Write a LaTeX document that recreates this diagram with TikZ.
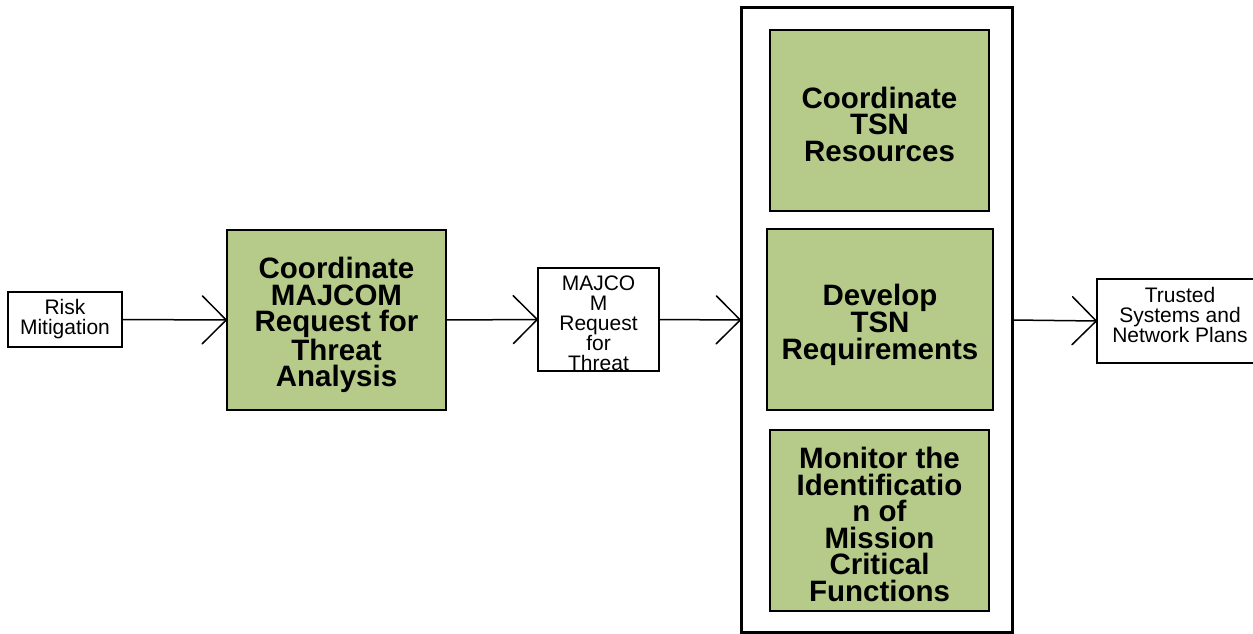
\documentclass[tikz,border=0pt]{standalone}
\usepackage{fontspec}
\setmainfont{Liberation Sans}
\usetikzlibrary{arrows.meta}
\definecolor{boxgreen}{RGB}{182,203,137}
\tikzset{
 plainbox/.style={draw, line width=1.5pt, fill=white, inner sep=0pt, outer sep=0pt},
 greenbox/.style={draw, line width=2.8pt, fill=boxgreen, inner sep=0pt, outer sep=0pt},
 greentxt/.style={font=\fontsize{29.5}{26.5}\selectfont\bfseries, align=center, inner sep=0pt},
 smalltxt/.style={font=\fontsize{21}{20}\selectfont, align=center, inner sep=0pt},
 flow/.style={line width=1.5pt, -{Straight Barb[length=24pt,width=48pt,round]}}
}
\begin{document}
\begin{tikzpicture}[x=1pt,y=-1pt]
\useasboundingbox (0,0) rectangle (1253,634);
\clip (0,0) rectangle (1253,634);

\node[plainbox, minimum width=114pt, minimum height=55pt, smalltxt] (risk) at (65,319.5) {Risk\\Mitigation};

\node[greenbox, minimum width=219pt, minimum height=180pt] (g1) at (336.5,320) {};
\node[greentxt] (g1text) at (336.5,325) {Coordinate\\MAJCOM\\Request for\\Threat\\Analysis};

\node[plainbox, minimum width=121pt, minimum height=103pt] (mj) at (598.5,319.5) {};
\begin{scope}
\clip (mj.north west) rectangle (mj.south east);
\node[smalltxt] (mjtext) at (598.5,323) {MAJCO\\M\\Request\\for\\Threat};
\end{scope}
\draw[line width=1.5pt] (mj.north west) rectangle (mj.south east);

\node[draw, line width=3pt, minimum width=271pt, minimum height=624pt, inner sep=0pt, outer sep=0pt] (big) at (876.5,320) {};

\node[greenbox, minimum width=219pt, minimum height=181pt] (g2) at (879.5,120.5) {};
\node[greentxt] (g2text) at (879.5,124) {Coordinate\\TSN\\Resources};

\node[greenbox, minimum width=226pt, minimum height=181pt] (g3) at (880,319.5) {};
\node[greentxt] (g3text) at (880,324.5) {Develop\\TSN\\Requirements};

\node[greenbox, minimum width=219pt, minimum height=181pt] (g4) at (879.5,520.5) {};
\node[greentxt] (g4text) at (879.5,524.5) {Monitor the\\Identificatio\\n of\\Mission\\Critical\\Functions};

\node[plainbox, minimum width=165pt, minimum height=84pt] (tr) at (1179.5,321) {};
\node[smalltxt] (trtext) at (1180,315) {Trusted\\Systems and\\Network Plans};

\draw[flow] (risk.east) -- (g1.west);
\draw[flow] (g1.east) -- (mj.west);
\draw[flow] (mj.east) -- (big.west);
\draw[flow] (big.east) -- (tr.west);
\end{tikzpicture}
\end{document}
